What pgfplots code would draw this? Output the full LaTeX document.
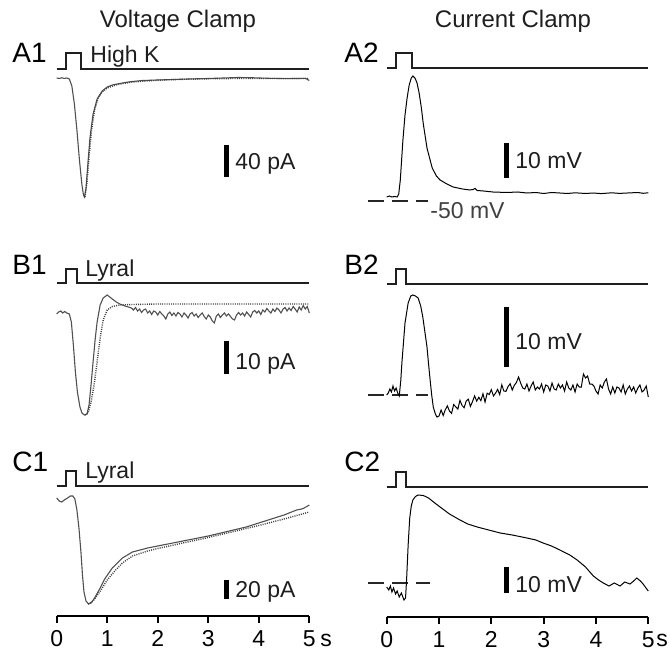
\documentclass[border=0pt]{standalone}
\usepackage{fontspec}
\setmainfont{Liberation Sans}
\usepackage{pgfplots}
\pgfplotsset{compat=1.18}
\definecolor{vcgrey}{RGB}{80,80,80}
\definecolor{txt}{RGB}{30,30,30}

\begin{document}
\begin{tikzpicture}
% one pixel of the reference = 0.5pt; trace rows are pixel rows from the top
\path[use as bounding box] (0pt,0pt) rectangle (335pt,-326pt);

\pgfplotsset{
  trace/.style={
    scale only axis, clip=false,
    xmin=0, xmax=5,
    y filter/.expression={-y},
    axis y line=none,
    axis x line*=bottom,
    xtick={0,1,2,3,4,5},
    tick align=outside,
    major tick length=3.5pt,
    axis line style={line width=1pt},
    tick style={line width=1pt,black},
    xticklabel style={font=\fontsize{11.5}{12}\selectfont, inner sep=1pt, yshift=-2.5pt},
    /pgf/number format/assume math mode=true,
    anchor=south west,
  },
  stim/.style={line width=1pt, color=black!88},
  vc/.style={line width=0.55pt, color=vcgrey},
  cc/.style={line width=0.5pt, color=black},
  fit/.style={line width=0.7pt, color=black!75, dash pattern=on 0.5pt off 0.6pt},
  bar/.style={line width=2.5pt, color=black},
  rest/.style={line width=1pt, color=black!85, dash pattern=on 8pt off 4pt},
}

% ---------------- voltage clamp column ----------------
\begin{axis}[trace, at={(28.35pt,-308pt)}, width=126.3pt, height=308pt, ymin=-616, ymax=0]
% stimulus bars
\addplot[stim] coordinates {(0,69) (0.18,69) (0.18,53) (0.48,53) (0.48,69) (5,69)};
\addplot[stim] coordinates {(0,283) (0.18,283) (0.18,269) (0.4,269) (0.4,283) (5,283)};
\addplot[stim] coordinates {(0,486) (0.18,486) (0.18,471) (0.38,471) (0.38,486) (5,486)};
% A1 high K current and fit
\addplot[vc] coordinates {
 (0,78) (0.05,78.5) (0.1,77.8) (0.15,78.4) (0.2,78) (0.25,79) (0.3,86) (0.35,104)
 (0.4,130) (0.45,160) (0.5,185) (0.53,195) (0.55,197) (0.58,188) (0.62,162)
 (0.66,137) (0.72,114) (0.8,99) (0.9,91) (1.0,87) (1.1,85) (1.2,84) (1.35,82.5)
 (1.5,81.5) (1.7,80.5) (2.0,80) (2.3,79.5) (2.6,79) (3.0,78.5) (3.3,78) (3.6,77.5)
 (3.9,77.8) (4.2,78.3) (4.5,78.6) (4.8,78.5) (4.92,78.3) (5.0,80.5)};
\addplot[fit] coordinates {
 (0.56,197) (0.6,182) (0.64,157) (0.69,130) (0.75,110) (0.82,98) (0.9,92) (1.0,88)
 (1.2,84.5) (1.5,82) (2.0,80.2) (2.5,79.3) (3.0,78.8) (3.5,78.5) (4.0,78.5) (4.5,78.5) (5.0,78.5)};
% B1 lyral current and fit
\addplot[vc] coordinates {
 (0,314) (0.04,312) (0.08,311) (0.12,313) (0.16,311.5) (0.2,313) (0.25,314) (0.29,322)
 (0.33,345) (0.37,372) (0.41,392) (0.46,407) (0.5,413) (0.55,415) (0.6,414) (0.64,405)
 (0.68,385) (0.72,362) (0.76,340) (0.8,322) (0.86,305) (0.92,298) (1.0,295) (1.05,297)
 (1.1,299) (1.18,302) (1.25,304) (1.35,306) (1.42,307)
 (1.48,308) (1.52,310) (1.56,307.5) (1.60,311) (1.64,309) (1.68,312.5) (1.72,310) (1.76,309)
 (1.80,313) (1.84,311) (1.88,314.5) (1.92,311) (1.96,312) (2.00,315) (2.04,311.5) (2.08,314)
 (2.12,316) (2.16,319) (2.20,314) (2.24,312) (2.28,315.5) (2.32,313) (2.36,316) (2.40,312.5)
 (2.44,314) (2.48,317) (2.52,313) (2.56,315) (2.60,318) (2.64,314) (2.68,312.5) (2.72,316)
 (2.76,314) (2.80,317.5) (2.84,315) (2.88,313) (2.92,316.5) (2.96,319) (3.00,315) (3.04,317)
 (3.08,321) (3.12,323) (3.16,316) (3.20,314) (3.24,317.5) (3.28,315) (3.32,313) (3.36,316)
 (3.40,314) (3.44,316.5) (3.48,319) (3.52,320) (3.56,315) (3.60,312.5) (3.64,315) (3.68,313)
 (3.72,316) (3.76,312) (3.80,314.5) (3.84,317) (3.88,312) (3.92,310.5) (3.96,313) (4.00,311)
 (4.04,314.5) (4.08,310) (4.12,312) (4.16,308.5) (4.20,311) (4.24,313) (4.28,309) (4.32,311.5)
 (4.36,308) (4.40,310) (4.44,313) (4.48,309) (4.52,307.5) (4.56,311) (4.60,308) (4.64,310.5)
 (4.68,306.5) (4.72,309) (4.76,312) (4.80,307) (4.84,310) (4.88,305.5) (4.92,309) (4.96,306.5)
 (5.00,313)};
\addplot[fit] coordinates {
 (0.56,415) (0.62,413) (0.68,402) (0.74,385) (0.8,362) (0.86,338) (0.92,320) (1.0,310)
 (1.1,306.5) (1.25,305) (1.5,304.5) (2,304) (5,304)};
% C1 lyral current and fit
\addplot[vc] coordinates {
 (0,498) (0.05,501) (0.1,502) (0.15,500) (0.2,498.5) (0.27,496) (0.32,496) (0.36,499)
 (0.4,510) (0.44,528) (0.48,552) (0.51,575) (0.54,592) (0.58,601) (0.63,604) (0.68,603)
 (0.75,598) (0.85,589) (0.95,579) (1.1,568) (1.3,558) (1.5,552) (1.8,548) (2.0,546)
 (2.25,543.5) (2.5,541) (2.75,538.5) (3.0,536) (3.25,533) (3.5,530) (3.75,527) (4.0,523)
 (4.25,519) (4.5,515) (4.75,510) (4.85,509) (4.9,508) (5.0,505)};
\addplot[fit] coordinates {
 (0.62,604) (0.72,601) (0.85,592) (1.0,580) (1.15,571) (1.3,563) (1.5,556) (1.8,551)
 (2.0,548.5) (2.5,543) (3.0,537.5) (3.5,531.5) (4.0,525.5) (4.5,519) (5.0,512)};
% scale bars
\addplot[bar] coordinates {(3.36,145) (3.36,177)};
\addplot[bar] coordinates {(3.36,341) (3.36,374)};
\addplot[bar] coordinates {(3.36,580) (3.36,599)};
\end{axis}

% ---------------- current clamp column ----------------
\begin{axis}[trace, at={(193.35pt,-308.5pt)}, width=130.8pt, height=308.5pt, ymin=-617, ymax=0]
\addplot[stim] coordinates {(0,68) (0.17,68) (0.17,53) (0.48,53) (0.48,68) (5,68)};
\addplot[stim] coordinates {(0,284) (0.17,284) (0.17,269) (0.36,269) (0.36,284) (5,284)};
\addplot[stim] coordinates {(0,487) (0.17,487) (0.17,472) (0.37,472) (0.37,487) (5,487)};
% resting potential markers (-50 mV)
\addplot[rest] coordinates {(-0.36,201) (0.79,201)};
\addplot[rest] coordinates {(-0.36,395) (0.79,395)};
\addplot[rest] coordinates {(-0.36,583) (0.82,583)};
% A2
\addplot[cc] coordinates {
 (0,197) (0.05,196) (0.1,197) (0.15,196.5) (0.2,197) (0.23,194) (0.26,180) (0.31,140)
 (0.35,115) (0.39,98) (0.43,85) (0.47,78) (0.5,76) (0.54,78) (0.58,83) (0.62,93)
 (0.66,107) (0.7,124) (0.77,148) (0.87,168) (0.95,176) (1.02,180) (1.15,184) (1.27,187)
 (1.45,189) (1.59,190) (1.65,189.5) (1.69,188.5) (1.73,190.5) (1.85,191) (2.03,192)
 (2.3,192.5) (2.5,192) (2.68,193) (2.85,192.5) (3.0,193.5) (3.15,192.5) (3.31,193)
 (3.45,193.5) (3.6,192.8) (3.8,193.5) (3.95,193) (4.1,193.6) (4.3,192.8) (4.45,193.4)
 (4.6,193) (4.8,192.5) (4.9,193.3) (5.0,192.8)};
% B2
\addplot[cc] coordinates {
 (0,395) (0.03,393) (0.06,389) (0.09,392) (0.12,386) (0.15,391) (0.18,388) (0.21,393)
 (0.24,396) (0.27,380) (0.29,363) (0.35,323) (0.41,303) (0.46,296) (0.5,295) (0.55,296)
 (0.6,298) (0.65,306) (0.69,317) (0.73,332) (0.77,347) (0.8,364) (0.83,380) (0.86,395)
 (0.89,407) (0.93,414) (0.96,417)
 (1.00,416) (1.04,410) (1.08,415.5) (1.12,409.7) (1.16,405.9) (1.20,411.1) (1.24,413.4) (1.28,404.6)
 (1.32,406.8) (1.36,409.1) (1.40,400.3) (1.44,405.5) (1.48,407.7) (1.52,401) (1.56,399.2) (1.60,406.4)
 (1.64,401.6) (1.68,395.9) (1.72,401.1) (1.76,397.3) (1.80,400.6) (1.84,393.8) (1.88,402) (1.92,393.2)
 (1.96,394.5) (2.00,389.7) (2.04,395.9) (2.08,393.2) (2.12,389.4) (2.16,394.6) (2.20,384.8) (2.24,391.1)
 (2.28,391.3) (2.32,386.5) (2.36,383.7) (2.40,390) (2.44,385.2) (2.48,382.4) (2.52,377) (2.56,383)
 (2.60,388) (2.64,389) (2.68,384) (2.72,391) (2.76,386) (2.80,382) (2.84,390) (2.88,387)
 (2.92,389) (2.96,384) (3.00,392) (3.04,385) (3.08,386) (3.12,391) (3.16,383) (3.20,389)
 (3.24,390) (3.28,384) (3.32,388) (3.36,385) (3.40,391) (3.44,382) (3.48,388) (3.52,390)
 (3.56,385) (3.60,392) (3.64,384) (3.68,387) (3.72,387) (3.76,374) (3.80,378) (3.84,376)
 (3.88,384) (3.92,384) (3.96,386) (4.00,391) (4.04,394) (4.08,385) (4.12,388) (4.16,382)
 (4.20,379) (4.24,389) (4.28,394) (4.32,387) (4.36,393) (4.40,387) (4.44,388) (4.48,392)
 (4.52,385) (4.56,394) (4.60,389) (4.64,386) (4.68,391) (4.72,387) (4.76,393) (4.80,388)
 (4.84,385) (4.88,392) (4.92,390) (4.96,386) (5.00,397)};
% C2
\addplot[cc] coordinates {
 (0,587) (0.04,590) (0.07,586) (0.1,592) (0.13,588) (0.17,594) (0.2,591) (0.24,597)
 (0.28,593) (0.33,600) (0.36,598) (0.38,580) (0.41,545) (0.44,518) (0.47,506) (0.5,500)
 (0.55,496.5) (0.6,495) (0.7,495.5) (0.8,498) (0.92,503) (1.02,507) (1.2,514) (1.4,520)
 (1.55,524) (1.73,527) (1.95,530) (2.17,533) (2.4,535) (2.68,538) (2.85,540) (2.99,543)
 (3.15,546) (3.31,550) (3.5,555) (3.64,560) (3.8,567) (3.95,576) (4.05,580) (4.14,583)
 (4.25,586) (4.35,583) (4.46,586) (4.55,582) (4.65,584) (4.72,581) (4.78,578) (4.85,581)
 (4.9,584) (5.0,591)};
% scale bars
\addplot[bar] coordinates {(2.29,143) (2.29,178)};
\addplot[bar] coordinates {(2.29,307) (2.29,367)};
\addplot[bar] coordinates {(2.29,567) (2.29,593)};
\end{axis}

% ---------------- text ----------------
\begin{scope}[x=0.5pt, y=-0.5pt, every node/.style={inner sep=0pt, text=txt, font=\fontsize{11.5}{12}\selectfont}]
\node[anchor=base, font=\fontsize{12}{12}\selectfont] at (178,28) {Voltage Clamp};
\node[anchor=base, font=\fontsize{12}{12}\selectfont] at (513,28) {Current Clamp};
\node[anchor=base west, font=\fontsize{14}{14}\selectfont, text=black] at (12,63) {A1};
\node[anchor=base west, font=\fontsize{14}{14}\selectfont, text=black] at (12,275) {B1};
\node[anchor=base west, font=\fontsize{14}{14}\selectfont, text=black] at (12,472) {C1};
\node[anchor=base west, font=\fontsize{14}{14}\selectfont, text=black] at (344,63) {A2};
\node[anchor=base west, font=\fontsize{14}{14}\selectfont, text=black] at (344,275) {B2};
\node[anchor=base west, font=\fontsize{14}{14}\selectfont, text=black] at (344,472) {C2};
\node[anchor=base west] at (90,63) {High K};
\node[anchor=base west] at (85,277) {Lyral};
\node[anchor=base west] at (85,479) {Lyral};
\node[anchor=base west] at (235,170) {40 pA};
\node[anchor=base west] at (235,370) {10 pA};
\node[anchor=base west] at (235,597) {20 pA};
\node[anchor=base west] at (515,169) {10 mV};
\node[anchor=base west] at (515,350) {10 mV};
\node[anchor=base west] at (515,592) {10 mV};
\node[anchor=base west, text=black!75] at (430,219) {-50 mV};
\node[anchor=base west, text=black] at (320,646) {s};
\node[anchor=base west, text=black] at (656,646) {s};
\end{scope}
\end{tikzpicture}
\end{document}
